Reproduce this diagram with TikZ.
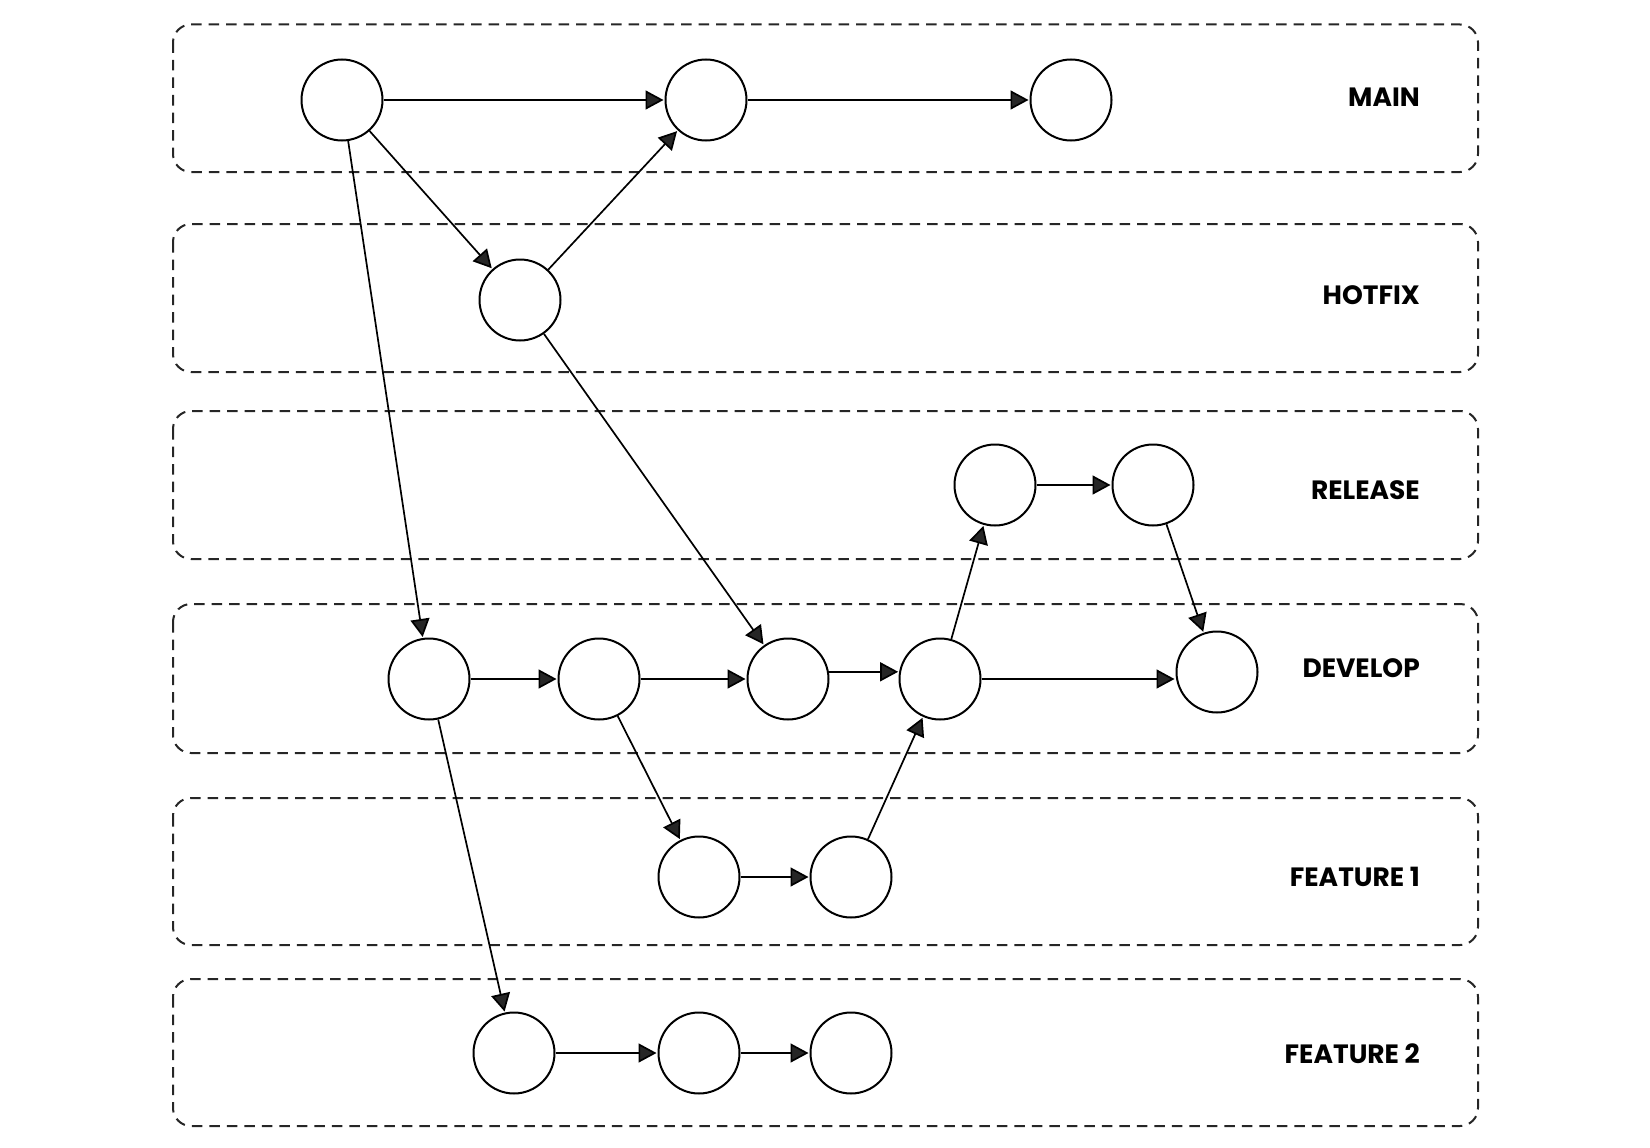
\documentclass[tikz,border=0pt]{standalone}
\usepackage{fontspec}
\setmainfont{Poppins}
\usetikzlibrary{arrows.meta}
\tikzset{
  lane/.style={draw=black!85, line width=2pt, dash pattern=on 10.5pt off 7pt, rounded corners=18pt},
  commit/.style={circle, draw=black, line width=2pt, fill=white, minimum size=81pt, inner sep=0pt},
  flow/.style={line width=1.7pt, -{Triangle[length=18pt,width=19pt,fill=black!85]}, shorten >=1pt},
  lanelabel/.style={anchor=east, font=\fontsize{26.5}{26.5}\selectfont\bfseries, inner sep=0pt}
}
\begin{document}
\begin{tikzpicture}[x=1pt,y=-1pt]
\useasboundingbox (0,0) rectangle (1650,1148);
% lanes
\draw[lane] (173,24.5) rectangle (1478,172);
\draw[lane] (173,224) rectangle (1478,372);
\draw[lane] (173,411) rectangle (1478,559);
\draw[lane] (173,604) rectangle (1478,753);
\draw[lane] (173,798) rectangle (1478,945);
\draw[lane] (173,979) rectangle (1478,1126);
% labels
\node[lanelabel] (lmain) at (1420,97) {MAIN};
\node[lanelabel] (lhot) at (1420,295) {HOTFIX};
\node[lanelabel] (lrel) at (1420,490) {RELEASE};
\node[lanelabel] (ldev) at (1420,668) {DEVELOP};
\node[lanelabel] (lf1) at (1420,877) {FEATURE 1};
\node[lanelabel] (lf2) at (1420,1054) {FEATURE 2};
% commits
\node[commit] (m1) at (342,100) {};
\node[commit] (m2) at (706,100) {};
\node[commit] (m3) at (1071,100) {};
\node[commit] (h1) at (520,300) {};
\node[commit] (r1) at (995,485) {};
\node[commit] (r2) at (1153,485) {};
\node[commit] (d1) at (429,679) {};
\node[commit] (d2) at (599,679) {};
\node[commit] (d3) at (788,679) {};
\node[commit] (d4) at (940,679) {};
\node[commit] (d5) at (1217,672) {};
\node[commit] (f1) at (699,877) {};
\node[commit] (f2) at (851,877) {};
\node[commit] (g1) at (514,1053) {};
\node[commit] (g2) at (699,1053) {};
\node[commit] (g3) at (851,1053) {};
% connectors
\draw[flow] (m1) -- (m2);
\draw[flow] (m2) -- (m3);
\draw[flow] (m1) -- (h1);
\draw[flow] (h1) -- (m2);
\draw[flow] (m1) -- (d1);
\draw[flow] (h1) -- (d3);
\draw[flow] (d1) -- (d2);
\draw[flow] (d2) -- (d3);
\draw[flow] (d3.10) -- (d4.170);
\draw[flow] (d4) -- (d4 -| d5.west);
\draw[flow] (d4) -- (r1);
\draw[flow] (r1) -- (r2);
\draw[flow] (r2) -- (d5);
\draw[flow] (d2) -- (f1);
\draw[flow] (f1) -- (f2);
\draw[flow] (f2) -- (d4);
\draw[flow] (d1) -- (g1);
\draw[flow] (g1) -- (g2);
\draw[flow] (g2) -- (g3);
\end{tikzpicture}
\end{document}
